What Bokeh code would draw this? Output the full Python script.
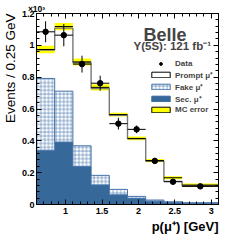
from bokeh.plotting import figure
from bokeh.models import (LinearAxis, SingleIntervalTicker, NumeralTickFormatter, Label,
                          Legend, LegendItem, Range1d, CustomJSTickFormatter, Title)
from bokeh.embed import file_html
from bokeh.resources import INLINE

# ---- data (units of 10^3 events / 0.25 GeV) ----
bin_edges = [0.6, 0.85, 1.1, 1.35, 1.6, 1.85, 2.1, 2.35, 2.6, 3.1]
data_y = [1.085, 1.064, 0.882, 0.762, 0.508, 0.472, 0.274, 0.143, 0.114]
data_err = [0.066, 0.070, 0.053, 0.047, 0.037, 0.024, 0.018, 0.012, 0.010]
prompt_total = [0.971, 1.108, 0.891, 0.729, 0.560, 0.413, 0.274, 0.145, 0.118]
mc_center = [0.974, 1.118, 0.896, 0.736, 0.565, 0.415, 0.276, 0.168, 0.122]
mc_err = [0.024, 0.023, 0.022, 0.019, 0.012, 0.012, 0.010, 0.010, 0.010]
fake_y = [0.451, 0.320, 0.131, 0.060, 0.034, 0.013, 0.008, 0.005, 0.003]
sec_y = [0.341, 0.392, 0.238, 0.123, 0.061, 0.038, 0.020, 0.012, 0.008]
x_ticks_interval = 0.5
y_ticks_interval = 0.2
legend_labels = ["Data", "Prompt \u03bc\u207a", "Fake \u03bc\u207a", "Sec. \u03bc\u207a", "MC error"]
x_title = "p(\u03bc\u207a) [GeV]"
y_title = "Events / 0.25 GeV"
y_scale_note = "\u00d710\u00b3"

left = bin_edges[:-1]
right = bin_edges[1:]
centers = [(a + b) / 2 for a, b in zip(left, right)]
fake_top = [s + f for s, f in zip(sec_y, fake_y)]
NAN = float("nan")

SEC_COL = "#36689a"
HATCH_COL = "#4574ab"
FONT = "Liberation Sans"

p = figure(width=241, height=234, x_range=Range1d(0.6, 3.1), y_range=Range1d(0, 1.2000001),
           output_backend="svg", toolbar_location=None,
           min_border_left=32, min_border_right=23, min_border_top=8, min_border_bottom=30)
p.xgrid.visible = False
p.ygrid.visible = False
p.outline_line_color = "black"
p.outline_line_width = 1
p.background_fill_color = "white"
p.border_fill_color = "white"


def style_axis(ax, interval, show_labels, standoff):
    ax.ticker = SingleIntervalTicker(interval=interval, num_minor_ticks=5)
    if show_labels:
        ax.formatter = NumeralTickFormatter(format="0.[0]")
    else:
        ax.formatter = CustomJSTickFormatter(code="return ''")
    ax.major_tick_in = 5
    ax.major_tick_out = 0
    ax.minor_tick_in = 3
    ax.minor_tick_out = 0
    ax.axis_line_color = "black"
    ax.major_tick_line_color = "black"
    ax.minor_tick_line_color = "black"
    ax.major_label_text_font = FONT
    ax.major_label_text_font_style = "bold"
    ax.major_label_text_color = "black"
    ax.major_label_text_font_size = "9px"
    ax.major_label_standoff = standoff
    ax.axis_label_text_font = FONT
    ax.axis_label_text_color = "black"


xa = p.xaxis[0]
ya = p.yaxis[0]
style_axis(xa, x_ticks_interval, True, 3)
style_axis(ya, y_ticks_interval, True, 2)

ax_top = LinearAxis()
style_axis(ax_top, x_ticks_interval, False, 0)
ax_top.axis_label = y_scale_note
ax_top.axis_label_text_font_size = "8.5px"
ax_top.axis_label_text_font_style = "bold"
ax_top.axis_label_standoff = 0
ax_top.axis_label_align = "start"
p.add_layout(ax_top, "above")

ax_right = LinearAxis()
style_axis(ax_right, y_ticks_interval, False, 0)
p.add_layout(ax_right, "right")

# axis titles as side-panel titles (right / top aligned as in the original)
p.add_layout(Title(text=x_title, align="right", text_font=FONT, text_font_size="13px",
                   text_font_style="bold", text_color="black", standoff=0, offset=0), "below")
p.add_layout(Title(text=y_title, align="right", text_font=FONT, text_font_size="13.5px",
                   text_font_style="normal", text_color="black", standoff=1, offset=0), "left")

# ---- stacked MC components ----
r_sec = p.quad(left=left, right=right, bottom=[0] * len(sec_y), top=sec_y,
               fill_color=SEC_COL, line_color=SEC_COL, line_width=1)
r_fake = p.quad(left=left, right=right, bottom=sec_y, top=fake_top,
                fill_color="white", line_color=HATCH_COL, line_width=1,
                hatch_pattern="+", hatch_color=HATCH_COL, hatch_scale=3.8, hatch_weight=0.6)

# MC error band
band_lo = [c - e for c, e in zip(mc_center, mc_err)]
band_hi = [c + e for c, e in zip(mc_center, mc_err)]
p.quad(left=left, right=right, bottom=band_lo, top=band_hi,
       fill_color="#ffff00", line_alpha=0)

# prompt (total) histogram outline
p.step(x=bin_edges, y=prompt_total + [prompt_total[-1]], mode="after",
       line_color="#777777", line_width=1.4)
p.segment(x0=left, x1=right, y0=mc_center, y1=mc_center, line_color="black", line_width=1)

# legend proxies (nothing drawn in the plot area)
r_prompt = p.quad(left=[NAN], right=[NAN], bottom=[NAN], top=[NAN], fill_color="white",
                  line_color="black", line_width=1)
r_mcerr = p.quad(left=[NAN], right=[NAN], bottom=[NAN], top=[NAN], fill_color="#ffff00",
                 line_color="black", line_width=1)

# data points
lo = [y - e for y, e in zip(data_y, data_err)]
hi = [y + e for y, e in zip(data_y, data_err)]
p.segment(x0=centers, x1=centers, y0=lo, y1=hi, line_color="black", line_width=1)
p.segment(x0=left, x1=right, y0=data_y, y1=data_y, line_color="black", line_width=1)
r_data = p.scatter(x=centers, y=data_y, size=5.5, marker="circle",
                   fill_color="black", line_color="black")

legend = Legend(items=[
    LegendItem(label=legend_labels[0], renderers=[r_data]),
    LegendItem(label=legend_labels[1], renderers=[r_prompt]),
    LegendItem(label=legend_labels[2], renderers=[r_fake]),
    LegendItem(label=legend_labels[3], renderers=[r_sec]),
    LegendItem(label=legend_labels[4], renderers=[r_mcerr]),
], location=(113, 90), orientation="vertical", glyph_width=23, glyph_height=7,
    label_height=7, spacing=1, padding=0, margin=0, border_line_alpha=0,
    background_fill_alpha=0, label_text_font=FONT, label_text_font_style="bold",
    label_text_font_size="8px", label_standoff=3)
p.add_layout(legend)

# ---- texts inside the frame ----
p.add_layout(Label(x=0.6, y=1.2, x_offset=107, y_offset=-21, text="Belle",
                   text_font=FONT, text_font_size="18px", text_font_style="bold",
                   text_align="left", text_baseline="alphabetic"))
p.add_layout(Label(x=0.6, y=1.2, x_offset=97, y_offset=-32,
                   text="\u03a5(5S): 121 fb\u207b\u00b9",
                   text_font=FONT, text_font_size="11.5px", text_font_style="bold",
                   text_align="left", text_baseline="alphabetic"))

open("out.html", "w").write(file_html(p, INLINE))
